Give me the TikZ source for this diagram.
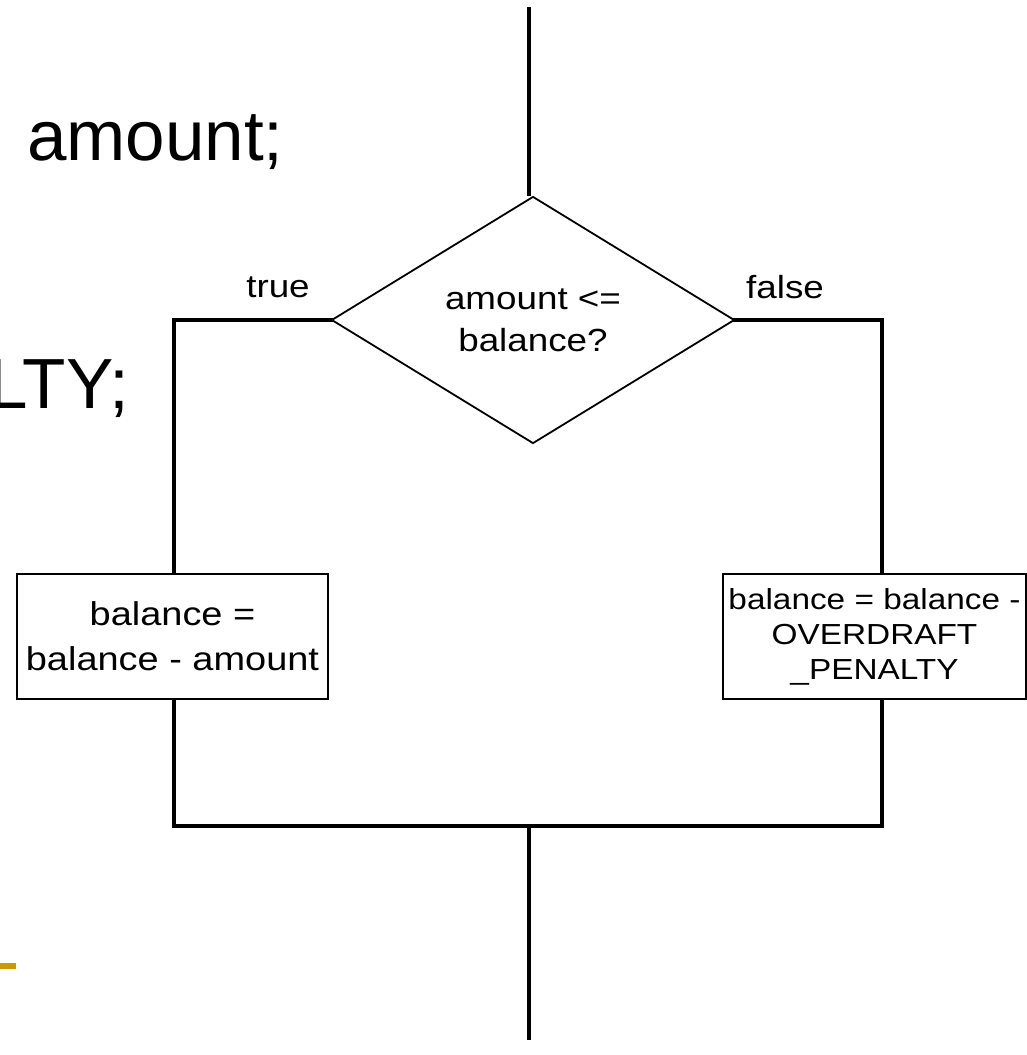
\documentclass[tikz,border=0pt]{standalone}
\usepackage{fontspec}
\setmainfont{Liberation Sans}
\newfontfamily\pixfont[FakeStretch=1.15]{Liberation Sans}
\usetikzlibrary{shapes.geometric}
\definecolor{gold}{RGB}{204,153,0}
\tikzset{
  flow/.style={line width=4pt},
  decision/.style={diamond, draw, line width=1.8pt, inner sep=0pt, minimum width=403pt, minimum height=247pt, align=center, font=\pixfont\fontsize{32}{42}\selectfont},
  procbox/.style={rectangle, draw, line width=2pt, inner sep=0pt, align=center},
  label/.style={inner sep=0pt, font=\pixfont\fontsize{32}{38}\selectfont},
  bigtext/.style={inner sep=0pt, font=\fontsize{71}{84}\selectfont}
}
\begin{document}
\begin{tikzpicture}[x=1pt,y=-1pt]
\useasboundingbox (0,0) rectangle (1027,1055);
\fill[white] (0,0) rectangle (1027,1055);
% background slide text
\node[bigtext, anchor=base west] (t1) at (27,160) {amount;};
\node[bigtext, anchor=base east] (t2) at (129,408) {LTY;};
\fill[gold] (0,963) rectangle (16,969);
% flowchart
\node[decision] (dec) at (533,320) {amount <=\\balance?};
\node[procbox, minimum width=311pt, minimum height=125pt, font=\pixfont\fontsize{33}{45}\selectfont] (lbox) at (172.5,636.5) {balance =\\balance - amount};
\node[procbox, minimum width=303pt, minimum height=125pt, font=\pixfont\fontsize{29}{35}\selectfont] (rbox) at (874.5,636.5) {balance = balance -\\OVERDRAFT\\\_PENALTY};
\node[label] (ltrue) at (278,287) {true};
\node[label] (lfalse) at (785,287) {false};
\coordinate (start) at (529,7);
\coordinate (ll) at (174,320);
\coordinate (rr) at (882,320);
\coordinate (jl) at (174,826);
\coordinate (jr) at (882,826);
\coordinate (jm) at (529,826);
\coordinate (stop) at (529,1040);
\draw[flow] (start) -- (start |- dec.north);
\draw[flow, line cap=rect] (dec.west) -- (ll) -- (ll |- lbox.north);
\draw[flow, line cap=rect] (dec.east) -- (rr) -- (rr |- rbox.north);
\draw[flow, line cap=rect] (jl |- lbox.south) -- (jl) -- (jr) -- (jr |- rbox.south);
\draw[flow] (jm) -- (stop);
\end{tikzpicture}
\end{document}
